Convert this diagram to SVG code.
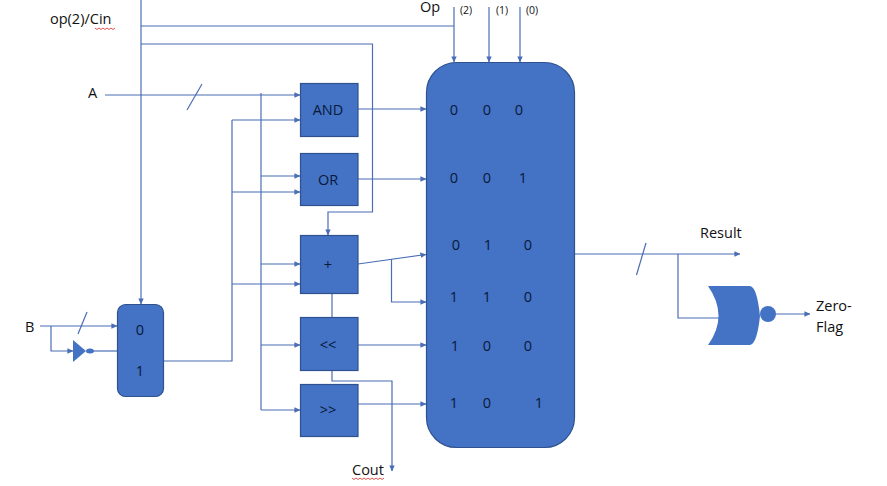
<svg xmlns="http://www.w3.org/2000/svg" width="887" height="486" viewBox="0 0 887 486">
  <style>
    .wire { fill: none; stroke: #4a6db5; stroke-width: 1.2; }
    .arrow { marker-end: url(#head); }
    .block { fill: #4472c4; stroke: #2f528f; stroke-width: 1.2; }
    .solid { fill: #4472c4; stroke: none; }
    .squiggle { fill: none; stroke: #d9413a; stroke-width: 0.9; }
    text { font-family: "Open Sans", "Noto Sans", "Liberation Sans", sans-serif; font-size: 14.5px; fill: #111; }
    .inside { fill: #081a3c; text-anchor: middle; }
    .small { font-size: 10.5px; }
  </style>
  <defs>
    <marker id="head" viewBox="0 0 6 6" refX="5.6" refY="3" markerWidth="6" markerHeight="6" markerUnits="userSpaceOnUse" orient="auto">
      <path d="M0 0.3 L6 3 L0 5.700 Z" fill="#4a6db5"/>
    </marker>
  </defs>
  <rect width="887" height="486" fill="#fff"/>

  <g id="connectors">
    <!-- op(2)/Cin distribution -->
    <path class="wire arrow" d="M141 0 V304"/>
    <path class="wire" d="M141 26 H454"/>
    <path class="wire arrow" d="M454 7 V62"/>
    <path class="wire arrow" d="M141 44 H372.500 V212 H328 V235"/>
    <path class="wire arrow" d="M489 7 V62"/>
    <path class="wire arrow" d="M520 7 V62"/>
    <!-- operand A -->
    <path class="wire arrow" d="M105 95 H300"/>
    <path class="wire" d="M202 84 L187 110"/>
    <path class="wire" d="M261 93 V410"/>
    <path class="wire arrow" d="M261 176 H300"/>
    <path class="wire arrow" d="M261 264 H300"/>
    <path class="wire arrow" d="M261 345 H300"/>
    <path class="wire arrow" d="M261 410 H300"/>
    <!-- operand B and its inverted form -->
    <path class="wire arrow" d="M40 326 H117"/>
    <path class="wire" d="M87 312 L78 334"/>
    <path class="wire arrow" d="M51 326 V351 H73"/>
    <path class="wire" d="M92 351 H117"/>
    <path class="wire" d="M163 361 H232 V120"/>
    <path class="wire arrow" d="M232 120 H300"/>
    <path class="wire arrow" d="M232 192 H300"/>
    <path class="wire arrow" d="M232 284 H300"/>
    <!-- unit outputs -->
    <path class="wire arrow" d="M358 109 H426"/>
    <path class="wire arrow" d="M358 179 H426"/>
    <path class="wire arrow" d="M358 264 L426 254.500"/>
    <path class="wire arrow" d="M391.500 259 V302 H426"/>
    <path class="wire arrow" d="M358 345 H426"/>
    <path class="wire arrow" d="M358 404 H426"/>
    <path class="wire" d="M332 293 V317"/>
    <path class="wire arrow" d="M332 370 V381 H392 V471"/>
    <!-- result and zero flag -->
    <path class="wire arrow" d="M575 254 H740"/>
    <path class="wire" d="M646 243 L636.500 275"/>
    <path class="wire" d="M678 254 V318 H721"/>
    <path class="wire arrow" d="M775 314 H810"/>
  </g>

  <g id="and-unit">
    <rect class="block" x="300.500" y="83.500" width="57.500" height="53"/>
    <text class="inside" x="328" y="115">AND</text>
  </g>
  <g id="or-unit">
    <rect class="block" x="300.500" y="153.500" width="57.500" height="52"/>
    <text class="inside" x="328" y="185">OR</text>
  </g>
  <g id="add-unit">
    <rect class="block" x="300.500" y="235.500" width="57.500" height="58"/>
    <text class="inside" x="328" y="270">+</text>
  </g>
  <g id="shift-left-unit">
    <rect class="block" x="300.500" y="317.500" width="57.500" height="53"/>
    <text class="inside" x="328" y="350">&lt;&lt;</text>
  </g>
  <g id="shift-right-unit">
    <rect class="block" x="300.500" y="384.500" width="57.500" height="52"/>
    <text class="inside" x="328" y="415">&gt;&gt;</text>
  </g>

  <g id="result-mux">
    <rect class="block" x="426.500" y="62.500" width="148" height="385" rx="30" ry="30"/>
    <text class="inside" x="454" y="115">0</text><text class="inside" x="487" y="115">0</text><text class="inside" x="519" y="115">0</text>
    <text class="inside" x="454" y="183">0</text><text class="inside" x="487" y="183">0</text><text class="inside" x="523" y="183">1</text>
    <text class="inside" x="456" y="250">0</text><text class="inside" x="488" y="250">1</text><text class="inside" x="528" y="250">0</text>
    <text class="inside" x="454" y="302">1</text><text class="inside" x="487" y="302">1</text><text class="inside" x="528" y="302">0</text>
    <text class="inside" x="455" y="351">1</text><text class="inside" x="487" y="351">0</text><text class="inside" x="528" y="351">0</text>
    <text class="inside" x="454" y="408">1</text><text class="inside" x="487" y="408">0</text><text class="inside" x="539" y="408">1</text>
  </g>

  <g id="b-mux">
    <rect class="block" x="117.500" y="304.500" width="46" height="92" rx="8" ry="8"/>
    <text class="inside" x="140" y="335">0</text>
    <text class="inside" x="140" y="376">1</text>
  </g>

  <g id="b-inverter">
    <path class="solid" d="M73 340 L86 351 L73 362 Z"/>
    <ellipse class="solid" cx="90" cy="351" rx="4" ry="2.500"/>
  </g>

  <g id="zero-nor">
    <path class="solid" d="M708 286 H750 Q757 287 760 316 Q757 344 750 345 H708 Q729 316 708 286 Z"/>
    <circle class="solid" cx="768" cy="314" r="8"/>
  </g>

  <g id="labels">
    <text x="50" y="24">op(2)/Cin</text>
    <path class="squiggle" d="M95 28 l2 1.500 l2 -1.500 l2 1.500 l2 -1.500 l2 1.500 l2 -1.500 l2 1.500 l2 -1.500 l2 1.500 l2 -1.500"/>
    <text x="88" y="98">A</text>
    <text x="25" y="332">B</text>
    <text x="420" y="12">Op</text>
    <text class="small" x="460" y="14">(2)</text>
    <text class="small" x="496" y="14">(1)</text>
    <text class="small" x="526" y="14">(0)</text>
    <text x="700" y="238">Result</text>
    <text x="816" y="311">Zero-</text>
    <text x="816" y="332">Flag</text>
    <text x="352" y="475">Cout</text>
    <path class="squiggle" d="M352 478 l2 1.500 l2 -1.500 l2 1.500 l2 -1.500 l2 1.500 l2 -1.500 l2 1.500 l2 -1.500 l2 1.500 l2 -1.500 l2 1.500 l2 -1.500 l2 1.500 l2 -1.500 l2 1.500 l2 -1.500"/>
  </g>
</svg>
